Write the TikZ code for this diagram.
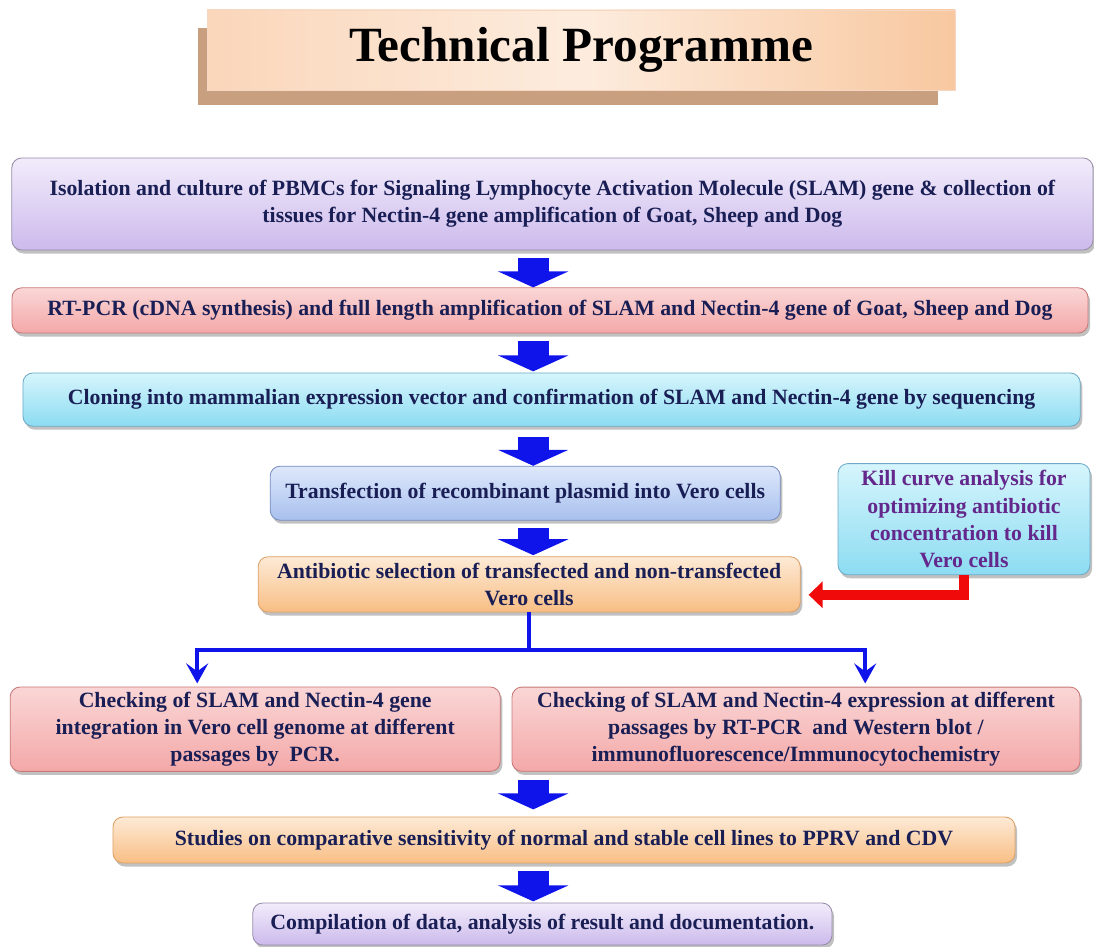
\documentclass[tikz,border=0pt]{standalone}
\usepackage{fontspec}
\setmainfont{Liberation Serif}
\usetikzlibrary{arrows.meta,shadows,positioning}

\definecolor{navytext}{RGB}{25,30,85}
\definecolor{killtext}{RGB}{100,40,140}
\definecolor{flowblue}{RGB}{15,20,235}
\definecolor{feedred}{RGB}{240,10,10}
\definecolor{titletan}{RGB}{200,160,128}

\tikzset{
  stage/.style={rounded corners=7pt, align=center, font=\fontsize{15.5}{19.5}\selectfont\bfseries,
    text=navytext, line width=0.6pt,
    drop shadow={shadow xshift=1.5pt, shadow yshift=-2.5pt, opacity=0.35, fill=black!70}},
  lavbox/.style={top color={rgb,255:red,242;green,236;blue,251}, bottom color={rgb,255:red,204;green,186;blue,236}, draw={rgb,255:red,150;green,140;blue,170}},
  pinkbox/.style={top color={rgb,255:red,250;green,214;blue,214}, bottom color={rgb,255:red,244;green,168;blue,168}, draw={rgb,255:red,200;green,120;blue,120}},
  cyanbox/.style={top color={rgb,255:red,214;green,245;blue,252}, bottom color={rgb,255:red,140;green,220;blue,242}, draw={rgb,255:red,110;green,170;blue,200}},
  bluebox/.style={top color={rgb,255:red,222;green,232;blue,251}, bottom color={rgb,255:red,168;green,192;blue,238}, draw={rgb,255:red,120;green,140;blue,190}},
  orangebox/.style={top color={rgb,255:red,253;green,234;blue,214}, bottom color={rgb,255:red,248;green,190;blue,132}, draw={rgb,255:red,220;green,160;blue,100}},
  flowarrow/.style={flowblue, line width=0.775cm, -{Triangle[width=1.75cm,length=0.4cm]}},
  branchline/.style={flowblue, line width=3pt},
  feedline/.style={feedred, line width=0.25cm, -{Triangle[width=0.65cm,length=0.35cm]}}
}

\begin{document}
\begin{tikzpicture}
  \useasboundingbox (0,0) rectangle (27.35,-23.675);
  \coordinate (spine) at (13.33,0);

  % title
  \fill[titletan] (4.95,-0.7) rectangle (23.45,-2.63);
  \node[left color={rgb,255:red,250;green,214;blue,186}, right color={rgb,255:red,248;green,200;blue,160},
    middle color={rgb,255:red,253;green,236;blue,222}, draw={rgb,255:red,245;green,215;blue,195},
    minimum width=18.7cm, minimum height=2cm, font=\fontsize{35}{40}\selectfont\bfseries]
    (title) at (14.53,-1.25) {Technical Programme};

  \node[stage, lavbox, minimum width=27.03cm, minimum height=2.3cm] (isolation) at (13.81,-5.1)
    {Isolation and culture of PBMCs for Signaling Lymphocyte Activation Molecule (SLAM) gene \& collection of\\
     tissues for Nectin-4 gene amplification of Goat, Sheep and Dog};
  \node[stage, pinkbox, minimum width=26.9cm, minimum height=1.13cm] (rtpcr) at (13.75,-7.76)
    {RT-PCR (cDNA synthesis) and full length amplification of SLAM and Nectin-4 gene of Goat, Sheep and Dog};
  \node[stage, cyanbox, minimum width=26.43cm, minimum height=1.33cm] (cloning) at (13.79,-9.99)
    {Cloning into mammalian expression vector and confirmation of SLAM and Nectin-4 gene by sequencing};
  \node[stage, bluebox, minimum width=12.75cm, minimum height=1.35cm] (transfect) at (13.13,-12.33)
    {Transfection of recombinant plasmid into Vero cells};
  \node[stage, orangebox, minimum width=13.55cm, minimum height=1.38cm] (selection) at (13.23,-14.61)
    {Antibiotic selection of transfected and non-transfected\\ Vero cells};
  \node[stage, cyanbox, text=killtext, minimum width=6.3cm, minimum height=2.78cm] (killcurve) at (24.1,-12.98)
    {Kill curve analysis for\\ optimizing antibiotic\\ concentration to kill\\ Vero cells};
  \node[stage, pinkbox, minimum width=12.25cm, minimum height=2.05cm] (integration) at (6.38,-18.23)
    {Checking of SLAM and Nectin-4 gene\\ integration in Vero cell genome at different\\ passages by\ \ PCR.};
  \node[stage, pinkbox, minimum width=14.2cm, minimum height=2.05cm] (expression) at (19.9,-18.23)
    {Checking of SLAM and Nectin-4 expression at different\\ passages by RT-PCR\ \ and Western blot /\\ immunofluorescence/Immunocytochemistry};
  \node[stage, orangebox, minimum width=22.55cm, minimum height=1.15cm] (studies) at (14.1,-21)
    {Studies on comparative sensitivity of normal and stable cell lines to PPRV and CDV};
  \node[stage, lavbox, minimum width=14.48cm, minimum height=1.05cm] (compilation) at (13.56,-23.1)
    {Compilation of data, analysis of result and documentation.};

  % block arrows
  \draw[flowarrow, shorten <=0.2cm] (spine |- isolation.south) -- (spine |- rtpcr.north);
  \draw[flowarrow, shorten <=0.18cm, shorten >=0.03cm] (spine |- rtpcr.south) -- (spine |- cloning.north);
  \draw[flowarrow, shorten <=0.25cm] (spine |- cloning.south) -- (spine |- transfect.north);
  \draw[flowarrow, shorten <=0.18cm, shorten >=0.03cm] (spine |- transfect.south) -- (spine |- selection.north);
  \draw[flowarrow, shorten <=0.2cm, shorten >=0.18cm] (spine |- integration.south) -- (spine |- studies.north);
  \draw[flowarrow, shorten <=0.18cm, shorten >=0.03cm] (spine |- studies.south) -- (spine |- compilation.north);

  % branch to the two checks
  \draw[branchline] (selection.south) -- ++(0,-0.93) coordinate (fork);
  \draw[branchline, -{Stealth[width=0.55cm,length=0.5cm,inset=0.2cm]}, shorten >=0.08cm]
    (fork) -| ([xshift=-1.45cm]integration.north);
  \draw[branchline, -{Stealth[width=0.55cm,length=0.5cm,inset=0.2cm]}, shorten >=0.08cm]
    (fork) -| ([xshift=1.73cm]expression.north);

  % kill curve feeds the selection
  \draw[feedline, shorten >=0.2cm] (killcurve.south) |- ([yshift=-0.26cm]selection.east);
\end{tikzpicture}
\end{document}
